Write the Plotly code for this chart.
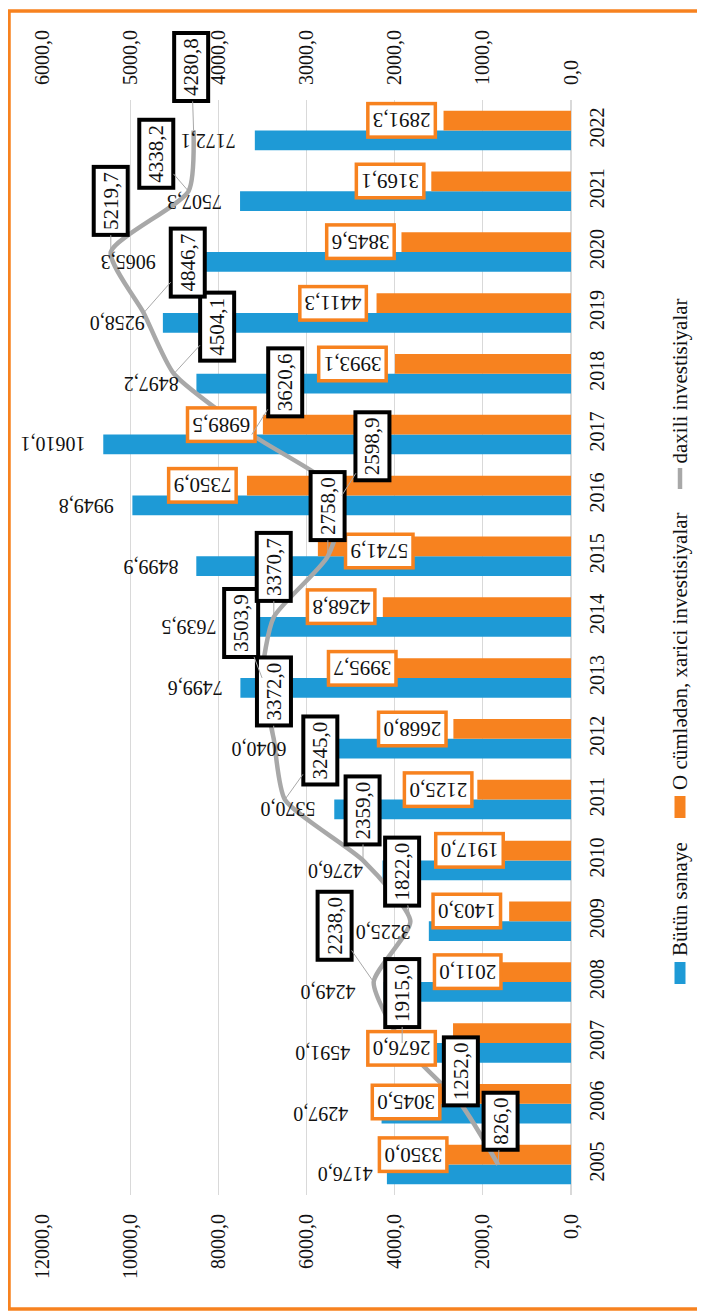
import plotly.graph_objects as go

years = list(range(2005, 2023))
butun_senaye = [4176.0, 4297.0, 4591.0, 4249.0, 3225.0, 4276.0, 5370.0, 6040.0, 7499.6,
                7639.5, 8499.9, 9949.8, 10610.1, 8497.2, 9258.0, 9065.3, 7507.3, 7172.1]
xarici = [3350.0, 3045.0, 2676.0, 2011.0, 1403.0, 1917.0, 2125.0, 2668.0, 3995.7,
          4268.8, 5741.9, 7350.9, 6989.5, 3993.1, 4411.3, 3845.6, 3169.1, 2891.3]
daxili = [826.0, 1252.0, 1915.0, 2238.0, 1822.0, 2359.0, 3245.0, 3372.0, 3503.9,
          3370.7, 2758.0, 2598.9, 3620.6, 4504.1, 4846.7, 5219.7, 4338.2, 4280.8]

bar_ticks = list(range(0, 12001, 2000))
line_ticks = list(range(0, 6001, 1000))

# label nudges (pixels) - the labels were moved by hand in the original
blue_gap = [12, 31, 16, 26, 16, 17, 17, 16, 16, 16, 16, 17, 16, 16, 16, 14, 16, 17]
orange_shift = [25, 5, -16, 20, -7, 18, -4, -6, 3, -6, 97, -9, -6, -7, -8, -6, -6, -6]
orange_drop = [0, 8, 15, 0, 0, 0, 0, 0, 0, 0, 5, 0, 0, 0, 0, 0, 0, 0]
line_label_off = [(2, -43), (0, -32), (0, -50), (-39, -56), (-8, -50), (0, -50),
                  (35, -49), (0, -47), (-21, -55), (0, -50), (0, -50), (31, -49),
                  (33, -52), (43, -47), (44, -50), (0, -51), (-32, -37), (-2, -63)]

BLUE = '#1E9AD6'
ORANGE = '#F7821F'
GRAY = '#A8A8A8'
FONT = 'Liberation Serif, Times New Roman, serif'

# the page puts the figure 8px in from the top-left corner
OFF = 8
# plot area in page pixels
L, R, T, B = 42, 571, 100, 1195
W, H = 705 - OFF, 1312 - OFF


def fmt(v):
    return f'{v:.1f}'.replace('.', ',')


def px(x):
    return (x - L) / (R - L)


def py(y):
    return (B - y) / (B - T)


fig = go.Figure()
fig.add_trace(go.Bar(y=years, x=butun_senaye, orientation='h', name='Bütün sənaye',
                     marker_color=BLUE, marker_line_width=0))
fig.add_trace(go.Bar(y=years, x=xarici, orientation='h',
                     name='O cümlədən, xarici investisiyalar',
                     marker_color=ORANGE, marker_line_width=0))
fig.add_trace(go.Scatter(y=years, x=daxili, xaxis='x2', mode='lines',
                         name='daxili investisiyalar',
                         line=dict(color=GRAY, width=4.5, shape='spline', smoothing=0.6)))

#------------------ bar labels ------------------#
for yr, v, g in zip(years, butun_senaye, blue_gap):
    fig.add_annotation(x=v, y=yr, xref='x', yref='y', text=fmt(v), textangle=180,
                       showarrow=False, xanchor='right', yanchor='middle',
                       xshift=-g, yshift=-10, font=dict(size=20, color='#111111'))

for yr, v, s, d in zip(years, xarici, orange_shift, orange_drop):
    fig.add_annotation(x=v, y=yr, xref='x', yref='y', text=fmt(v), textangle=180,
                       showarrow=False, xanchor='right', yanchor='middle',
                       xshift=s, yshift=10 - d, bgcolor='white', bordercolor=ORANGE,
                       borderwidth=3.5, borderpad=3, font=dict(size=21, color='#111111'))

#------------------ line labels ------------------#
for yr, v, (dx, dy) in zip(years, daxili, line_label_off):
    fig.add_annotation(x=v, y=yr, xref='x2', yref='y', text=fmt(v), textangle=-90,
                       showarrow=True, arrowhead=0, arrowwidth=1, arrowcolor=GRAY,
                       ax=dx, ay=dy, standoff=0, bgcolor='white', bordercolor='black',
                       borderwidth=4, borderpad=3, font=dict(size=21, color='#111111'))

#------------------ legend (rotated) ------------------#
lx = 680
legend_font = dict(size=21, color='#111111')
fig.add_shape(type='line', xref='paper', yref='paper', x0=px(lx), x1=px(lx),
              y0=py(468), y1=py(489), line=dict(color=GRAY, width=4.5))
fig.add_annotation(xref='paper', yref='paper', x=px(lx), y=py(466), text='daxili investisiyalar',
                   textangle=-90, showarrow=False, xanchor='center', yanchor='bottom',
                   font=legend_font)
fig.add_shape(type='rect', xref='paper', yref='paper', x0=px(lx - 5.5), x1=px(lx + 5.5),
              y0=py(796), y1=py(818), fillcolor=ORANGE, line_width=0)
fig.add_annotation(xref='paper', yref='paper', x=px(lx), y=py(792),
                   text='O cümlədən, xarici investisiyalar',
                   textangle=-90, showarrow=False, xanchor='center', yanchor='bottom',
                   font=legend_font)
fig.add_shape(type='rect', xref='paper', yref='paper', x0=px(lx - 5.5), x1=px(lx + 5.5),
              y0=py(962), y1=py(984), fillcolor=BLUE, line_width=0)
fig.add_annotation(xref='paper', yref='paper', x=px(lx), y=py(958), text='Bütün sənaye',
                   textangle=-90, showarrow=False, xanchor='center', yanchor='bottom',
                   font=legend_font)

# orange frame round the chart
fig.add_shape(type='rect', xref='paper', yref='paper', x0=px(9), x1=px(702),
              y0=py(1309), y1=py(11), line=dict(color=ORANGE, width=3.5),
              fillcolor='rgba(0,0,0,0)', layer='above')

fig.update_layout(
    template='none',
    width=W, height=H,
    margin=dict(l=L - OFF, r=705 - R, t=T - OFF, b=1312 - B, autoexpand=False),
    plot_bgcolor='white', paper_bgcolor='white',
    barmode='group', bargap=0.35, bargroupgap=0,
    showlegend=False,
    separators=', ',
    font=dict(family=FONT, size=20, color='#111111'),
    xaxis=dict(range=[12000, 0], tickvals=bar_ticks, tickformat='.1f', tickangle=-90,
               showgrid=True, gridcolor='#D9D9D9', gridwidth=1,
               zeroline=True, zerolinecolor='#D9D9D9', zerolinewidth=1.5,
               showline=False, ticks='', ticklabelstandoff=14, automargin=False),
    xaxis2=dict(overlaying='x', side='top', range=[6000, 0], tickvals=line_ticks,
                tickformat='.1f', tickangle=-90, showgrid=False, zeroline=False,
                showline=False, ticks='', ticklabelstandoff=14, automargin=False),
    yaxis=dict(range=[2004.5, 2022.5], tickvals=years, tickformat='d', side='right',
               tickangle=-90, showgrid=False, zeroline=False, showline=False,
               ticks='', ticklabelstandoff=12, automargin=False),
)

fig.write_html('out.html')
